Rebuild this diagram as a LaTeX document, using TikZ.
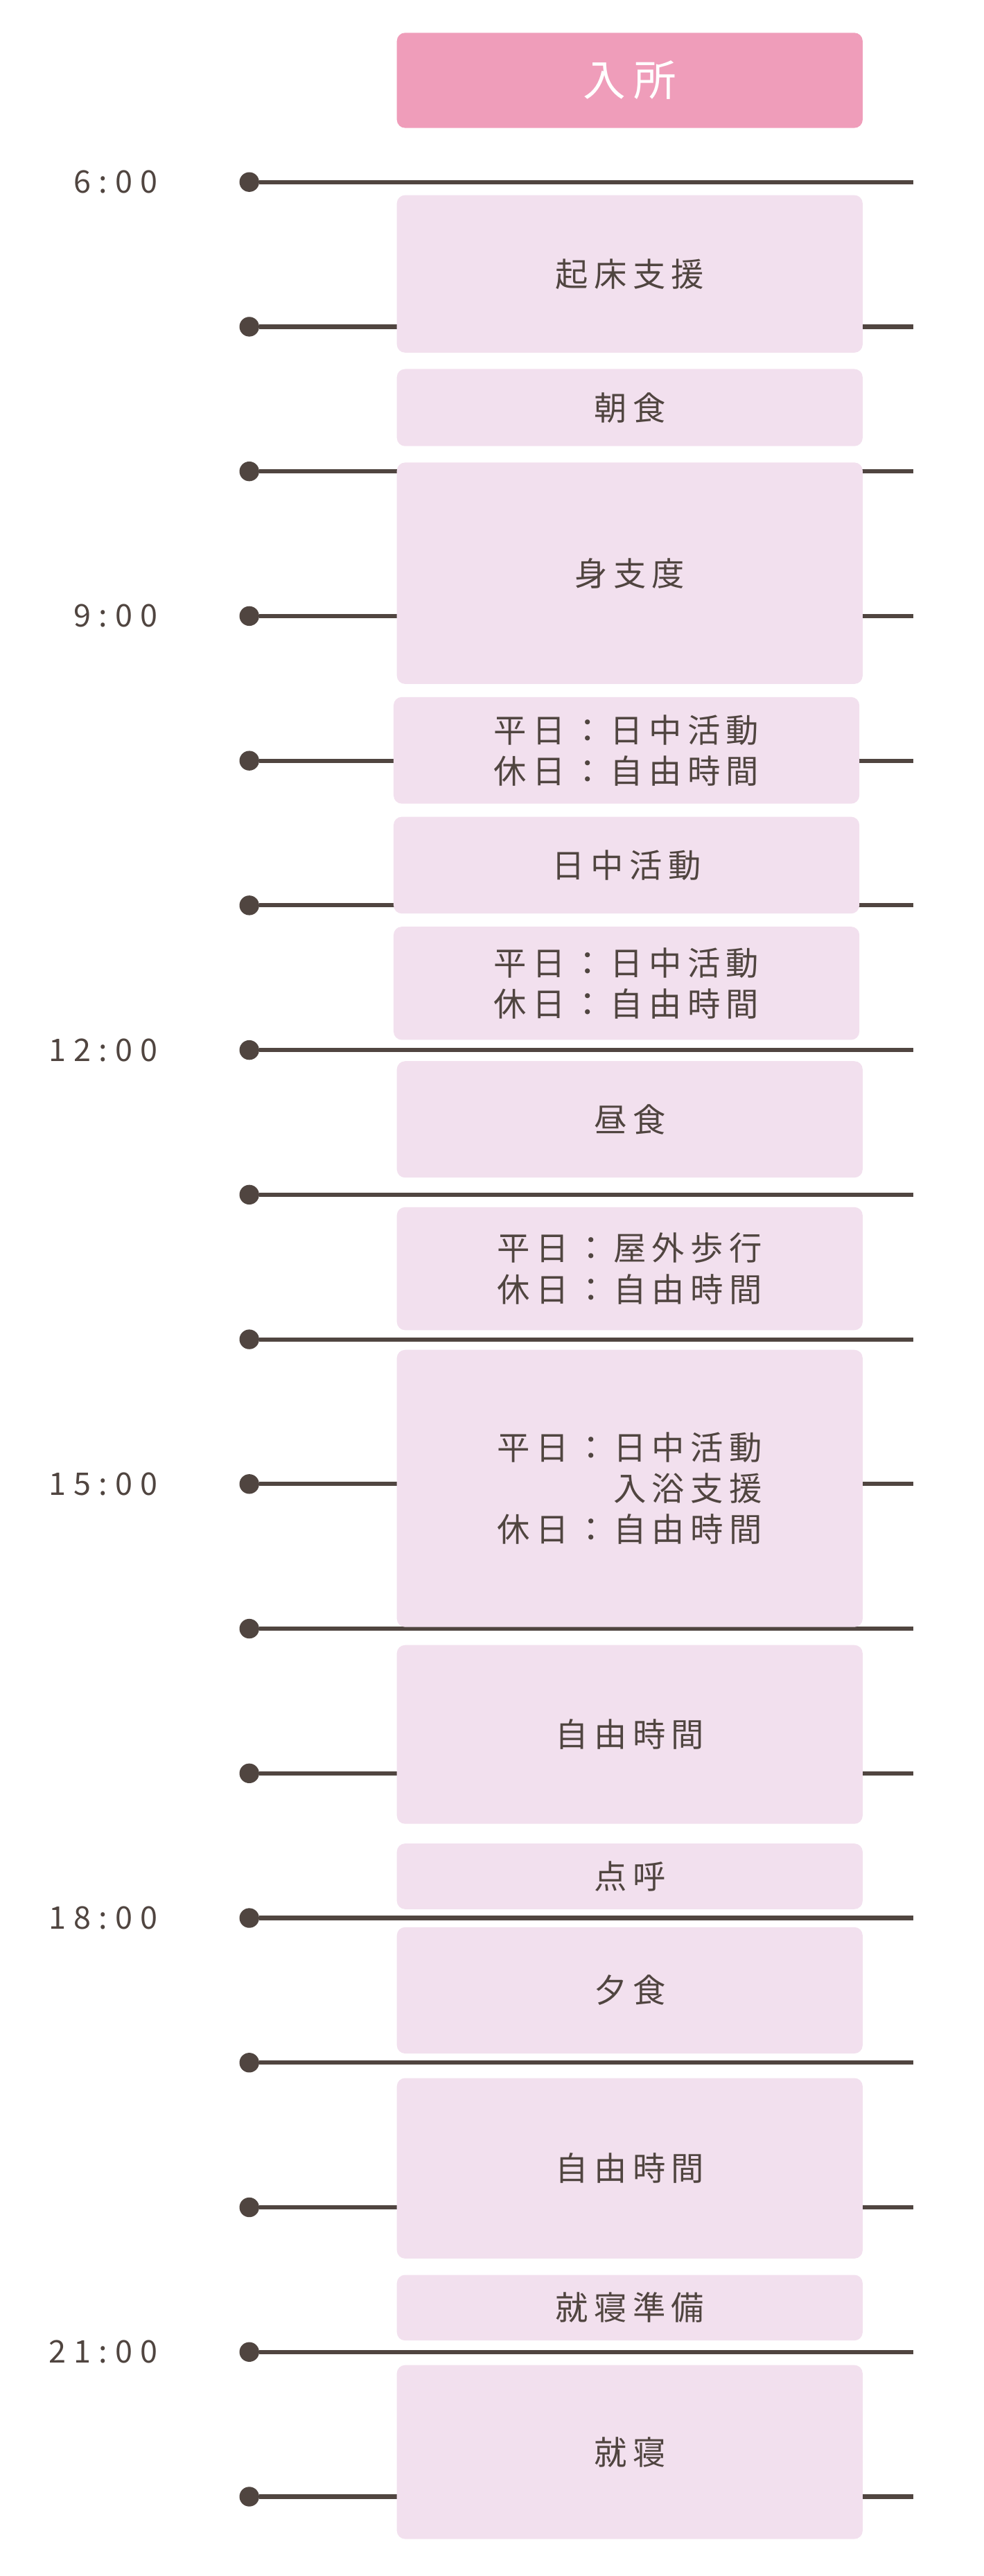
\documentclass[tikz,border=0pt]{standalone}
\usepackage{fontspec}
\setmainfont{Noto Sans CJK JP}
\definecolor{ink}{HTML}{504540}
\definecolor{boxpink}{HTML}{F2E0EE}
\definecolor{headpink}{HTML}{EF9DBA}
\tikzset{slot/.style = {rectangle, rounded corners=5pt, fill=boxpink, inner sep=0pt,
    minimum width=284pt, text=ink, font=\fontsize{20}{25}\selectfont\addfontfeatures{LetterSpace=18}},
  head/.style = {slot, fill=headpink, text=white, font=\fontsize{26}{30}\selectfont\addfontfeatures{LetterSpace=18}},
  tick/.style = {circle, fill=ink, inner sep=0pt, minimum size=12pt},
  hour/.style = {anchor=east, text=ink, font=\fontsize{19}{22}\selectfont\addfontfeatures{LetterSpace=25}}}

\begin{document}
\begin{tikzpicture}[x=1pt, y=-1pt]
  \useasboundingbox (0,0) rectangle (600,1570.6);

  % timeline
  \foreach \i in {0,...,16} {
    \node[tick] (t\i) at (152, 111+88.2*\i) {};
    \coordinate (e\i) at (557, 111+88.2*\i);
    \draw[ink, line width=2.6pt] (t\i) -- (e\i);
  }

  \node[hour] (h6)  at (t0.west)  [left=46pt] {6:00};
  \node[hour] (h9)  at (t3.west)  [left=46pt] {9:00};
  \node[hour] (h12) at (t6.west)  [left=46pt] {12:00};
  \node[hour] (h15) at (t9.west)  [left=46pt] {15:00};
  \node[hour] (h18) at (t12.west) [left=46pt] {18:00};
  \node[hour] (h21) at (t15.west) [left=46pt] {21:00};

  \node[head] (arrive) at (384, 49) [minimum height=58pt] {入所};

  \node[slot] (wake)   at (384, 167)   [minimum height=96pt]  {起床支援};
  \node[slot] (bfast)  at (384, 248.5) [minimum height=47pt]  {朝食};
  \node[slot] (dress)  at (384, 349.5) [minimum height=135pt] {身支度};
  \node[slot, align=center] (am1) at (382, 457.5) [minimum height=65pt] {平日：日中活動\\休日：自由時間};
  \node[slot] (am2)    at (382, 527.5) [minimum height=59pt]  {日中活動};
  \node[slot, align=center] (am3) at (382, 599.5) [minimum height=69pt] {平日：日中活動\\休日：自由時間};
  \node[slot] (lunch)  at (384, 682.5) [minimum height=71pt]  {昼食};
  \node[slot, align=center] (walk) at (384, 773.5) [minimum height=75pt] {平日：屋外歩行\\休日：自由時間};
  \node[slot, align=right] (bath) at (384, 907.5) [minimum height=169pt] {平日：日中活動\\入浴支援\\休日：自由時間};
  \node[slot] (free1)  at (384, 1057.5) [minimum height=109pt] {自由時間};
  \node[slot] (roll)   at (384, 1144)   [minimum height=40pt]  {点呼};
  \node[slot] (dinner) at (384, 1213.5) [minimum height=77pt]  {夕食};
  \node[slot] (free2)  at (384, 1322)   [minimum height=110pt] {自由時間};
  \node[slot] (prep)   at (384, 1407)   [minimum height=40pt]  {就寝準備};
  \node[slot] (sleep)  at (384, 1495)   [minimum height=106pt] {就寝};

\end{tikzpicture}
\end{document}
